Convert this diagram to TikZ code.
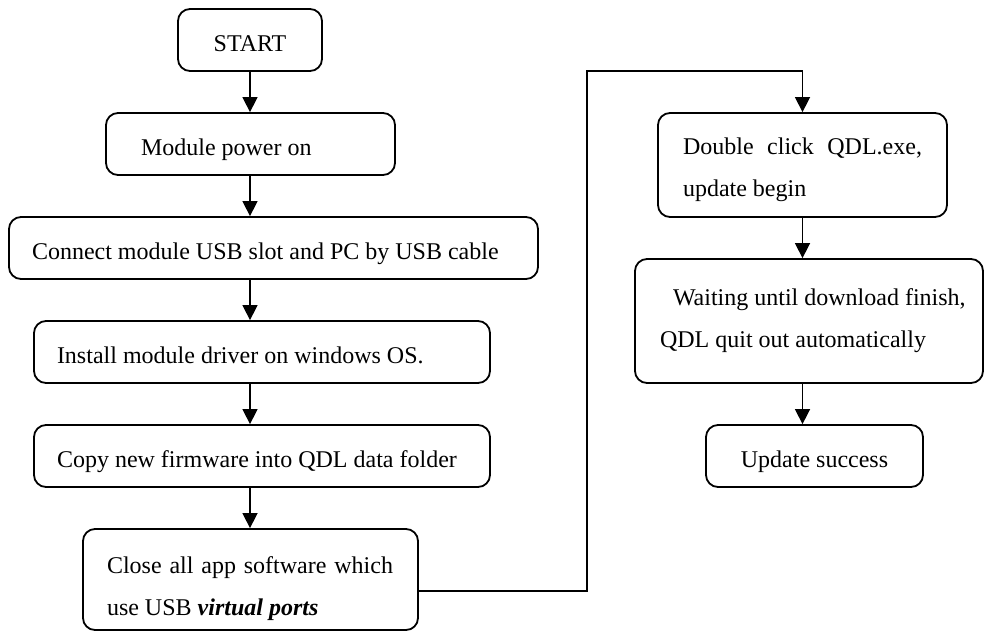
\documentclass[tikz,border=0pt]{standalone}
\usepackage{fontspec}
\setmainfont{Liberation Serif}
\usetikzlibrary{arrows.meta}
\begin{document}
\begin{tikzpicture}[x=1pt,y=-1pt,
  box/.style={draw, line width=1.8pt, rounded corners=12pt, inner ysep=0pt,
    font=\fontsize{24}{42}\selectfont},
  one/.style={box, text height=22pt, text depth=0pt},
  two/.style={box, text height=10pt, text depth=42pt, align=flush left},
  arr/.style={line width=1.5pt, -{Triangle[length=15pt,width=15pt]}},
]
\useasboundingbox (0,0) rectangle (984,632);

% left column
\node[one, minimum width=144pt, minimum height=62pt] (start) at (250,40) {START};
\node[one, minimum width=289pt, minimum height=62pt, text width=219pt, inner xsep=35pt, align=flush left] (power) at (250.5,144) {Module power on};
\node[one, minimum width=529pt, minimum height=62pt, text width=483pt, inner xsep=23pt, align=flush left] (connect) at (273.5,248) {Connect module USB slot and PC by USB cable};
\node[one, minimum width=456pt, minimum height=62pt, text width=410pt, inner xsep=23pt, align=flush left] (driver) at (262,352) {Install module driver on windows OS.};
\node[one, minimum width=456pt, minimum height=62pt, text width=410pt, inner xsep=23pt, align=flush left] (copy) at (262,456) {Copy new firmware into QDL data folder};
\node[two, minimum width=335pt, minimum height=101pt, text width=287pt, inner xsep=24pt, text height=20pt, text depth=33pt] (close) at (250.5,579.5) {\makebox[286pt][s]{Close all app software which}\\use USB \textbf{\textit{virtual ports}}};

% right column
\node[two, minimum width=289pt, minimum height=104pt, text width=239pt, inner xsep=25pt, text height=15pt, text depth=37pt] (dbl) at (802.5,165) {\makebox[239pt][s]{Double click QDL.exe,}\\update begin};
\node[two, minimum width=348pt, minimum height=124pt, text width=298pt, inner xsep=25pt] (wait) at (809,321) {\makebox[298pt][l]{\hspace*{13pt}Waiting until download finish,}\\QDL quit out automatically};
\node[one, minimum width=217pt, minimum height=62pt] (done) at (814.5,456) {Update success};

% connectors
\draw[arr] (start.south) -- (start.south |- power.north);
\draw[arr] (power.south -| start.south) -- (connect.north -| start.south);
\draw[arr] (connect.south -| start.south) -- (driver.north -| start.south);
\draw[arr] (driver.south -| start.south) -- (copy.north -| start.south);
\draw[arr] (copy.south -| start.south) -- (close.north -| start.south);
\coordinate (c1) at (587,591);
\coordinate (c2) at (587,71);
\draw[arr] ([yshift=-11.5pt]close.east) -- (c1) -- (c2) -| (dbl.north);
\draw[arr] (dbl.south) -- (dbl.south |- wait.north);
\draw[arr] (wait.south -| dbl.south) -- (done.north -| dbl.south);
\end{tikzpicture}
\end{document}
